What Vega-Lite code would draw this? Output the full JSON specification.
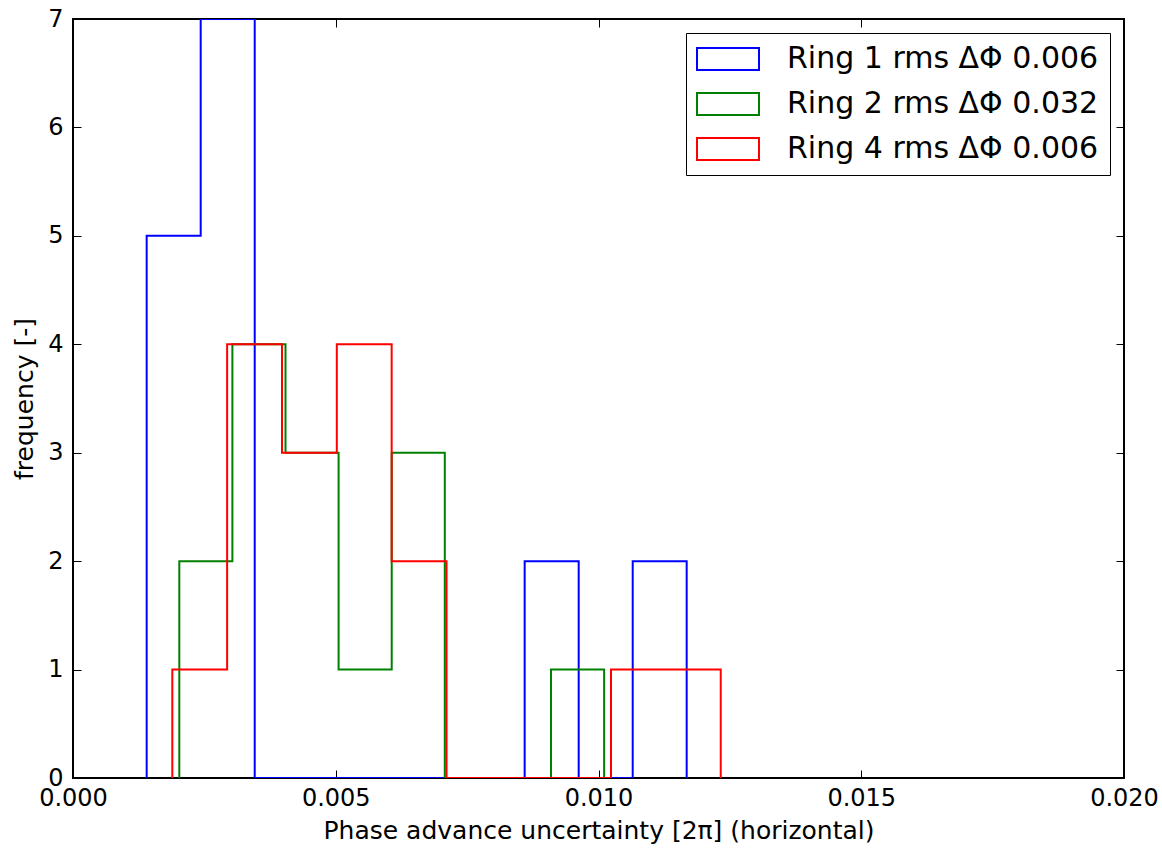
{
  "$schema": "https://vega.github.io/schema/vega-lite/v6.json",
  "autosize": "none",
  "width": 1051,
  "height": 759,
  "padding": {"left": 73, "top": 19, "right": 38, "bottom": 73},
  "background": "white",
  "config": {
    "font": "DejaVu Sans",
    "view": {"stroke": "black", "strokeWidth": 2},
    "axis": {
      "grid": false,
      "domain": false,
      "tickColor": "black",
      "tickWidth": 1,
      "tickSize": -8,
      "labelFont": "DejaVu Sans",
      "labelFontSize": 24,
      "labelColor": "black",
      "titleFont": "DejaVu Sans",
      "titleFontSize": 25,
      "titleFontWeight": "normal",
      "titleColor": "black"
    },
    "legend": {
      "labelFont": "DejaVu Sans",
      "labelFontSize": 30,
      "labelColor": "black",
      "labelLimit": 0
    }
  },
  "data": {
    "values": [
      {"ring": "Ring 1 rms ΔΦ 0.006", "i": 0, "x": 0.001402, "count": 0},
      {"ring": "Ring 1 rms ΔΦ 0.006", "i": 1, "x": 0.001402, "count": 5},
      {"ring": "Ring 1 rms ΔΦ 0.006", "i": 2, "x": 0.002430, "count": 7},
      {"ring": "Ring 1 rms ΔΦ 0.006", "i": 3, "x": 0.003458, "count": 0},
      {"ring": "Ring 1 rms ΔΦ 0.006", "i": 4, "x": 0.004485, "count": 0},
      {"ring": "Ring 1 rms ΔΦ 0.006", "i": 5, "x": 0.005513, "count": 0},
      {"ring": "Ring 1 rms ΔΦ 0.006", "i": 6, "x": 0.006540, "count": 0},
      {"ring": "Ring 1 rms ΔΦ 0.006", "i": 7, "x": 0.007568, "count": 0},
      {"ring": "Ring 1 rms ΔΦ 0.006", "i": 8, "x": 0.008595, "count": 2},
      {"ring": "Ring 1 rms ΔΦ 0.006", "i": 9, "x": 0.009623, "count": 0},
      {"ring": "Ring 1 rms ΔΦ 0.006", "i": 10, "x": 0.010651, "count": 2},
      {"ring": "Ring 1 rms ΔΦ 0.006", "i": 11, "x": 0.011678, "count": 0},
      {"ring": "Ring 2 rms ΔΦ 0.032", "i": 0, "x": 0.002023, "count": 0},
      {"ring": "Ring 2 rms ΔΦ 0.032", "i": 1, "x": 0.002023, "count": 2},
      {"ring": "Ring 2 rms ΔΦ 0.032", "i": 2, "x": 0.003033, "count": 4},
      {"ring": "Ring 2 rms ΔΦ 0.032", "i": 3, "x": 0.004044, "count": 3},
      {"ring": "Ring 2 rms ΔΦ 0.032", "i": 4, "x": 0.005054, "count": 1},
      {"ring": "Ring 2 rms ΔΦ 0.032", "i": 5, "x": 0.006065, "count": 3},
      {"ring": "Ring 2 rms ΔΦ 0.032", "i": 6, "x": 0.007075, "count": 0},
      {"ring": "Ring 2 rms ΔΦ 0.032", "i": 7, "x": 0.008086, "count": 0},
      {"ring": "Ring 2 rms ΔΦ 0.032", "i": 8, "x": 0.009096, "count": 1},
      {"ring": "Ring 2 rms ΔΦ 0.032", "i": 9, "x": 0.010107, "count": 0},
      {"ring": "Ring 4 rms ΔΦ 0.006", "i": 0, "x": 0.001890, "count": 0},
      {"ring": "Ring 4 rms ΔΦ 0.006", "i": 1, "x": 0.001890, "count": 1},
      {"ring": "Ring 4 rms ΔΦ 0.006", "i": 2, "x": 0.002933, "count": 4},
      {"ring": "Ring 4 rms ΔΦ 0.006", "i": 3, "x": 0.003977, "count": 3},
      {"ring": "Ring 4 rms ΔΦ 0.006", "i": 4, "x": 0.005020, "count": 4},
      {"ring": "Ring 4 rms ΔΦ 0.006", "i": 5, "x": 0.006064, "count": 2},
      {"ring": "Ring 4 rms ΔΦ 0.006", "i": 6, "x": 0.007108, "count": 0},
      {"ring": "Ring 4 rms ΔΦ 0.006", "i": 7, "x": 0.008151, "count": 0},
      {"ring": "Ring 4 rms ΔΦ 0.006", "i": 8, "x": 0.009195, "count": 0},
      {"ring": "Ring 4 rms ΔΦ 0.006", "i": 9, "x": 0.010238, "count": 1},
      {"ring": "Ring 4 rms ΔΦ 0.006", "i": 10, "x": 0.011282, "count": 1},
      {"ring": "Ring 4 rms ΔΦ 0.006", "i": 11, "x": 0.012326, "count": 0}
    ]
  },
  "resolve": {"axis": {"x": "independent", "y": "independent"}},
  "layer": [
    {
      "mark": {"type": "line", "interpolate": "step-after", "strokeWidth": 2, "clip": true},
      "encoding": {
        "x": {
          "field": "x", "type": "quantitative",
          "scale": {"domain": [0, 0.02], "nice": false, "zero": false},
          "axis": {"orient": "bottom", "values": [0, 0.005, 0.01, 0.015, 0.02], "format": ".3f", "labelPadding": 16, "title": "Phase advance uncertainty [2π] (horizontal)", "titlePadding": 8, "labelFlush": false}
        },
        "y": {
          "field": "count", "type": "quantitative",
          "scale": {"domain": [0, 7], "nice": false},
          "axis": {"orient": "left", "values": [0, 1, 2, 3, 4, 5, 6, 7], "labelPadding": 18, "title": "frequency [-]", "titlePadding": 10, "labelFlush": false}
        },
        "color": {
          "field": "ring", "type": "nominal",
          "scale": {"domain": ["Ring 1 rms ΔΦ 0.006", "Ring 2 rms ΔΦ 0.032", "Ring 4 rms ΔΦ 0.006"], "range": ["#0000ff", "#008000", "#ff0000"]},
          "legend": {
            "title": null,
            "orient": "top-right",
            "offset": 14,
            "strokeColor": "black",
            "fillColor": "white",
            "padding": 11,
            "symbolType": "M-2.818,-1H2.818V1H-2.818Z",
            "symbolSize": 484,
            "symbolOffset": 16,
            "symbolStrokeWidth": 2,
            "symbolFillColor": "transparent",
            "labelOffset": 44,
            "rowPadding": 15
          }
        },
        "order": {"field": "i", "type": "quantitative"}
      }
    },
    {
      "mark": {"type": "line", "strokeOpacity": 0},
      "encoding": {
        "x": {
          "field": "x", "type": "quantitative",
          "axis": {"orient": "top", "values": [0, 0.005, 0.01, 0.015, 0.02], "labels": false, "title": null}
        },
        "y": {
          "field": "count", "type": "quantitative",
          "axis": {"orient": "right", "values": [0, 1, 2, 3, 4, 5, 6, 7], "labels": false, "title": null}
        },
        "detail": {"field": "ring", "type": "nominal"},
        "order": {"field": "i", "type": "quantitative"}
      }
    }
  ]
}
